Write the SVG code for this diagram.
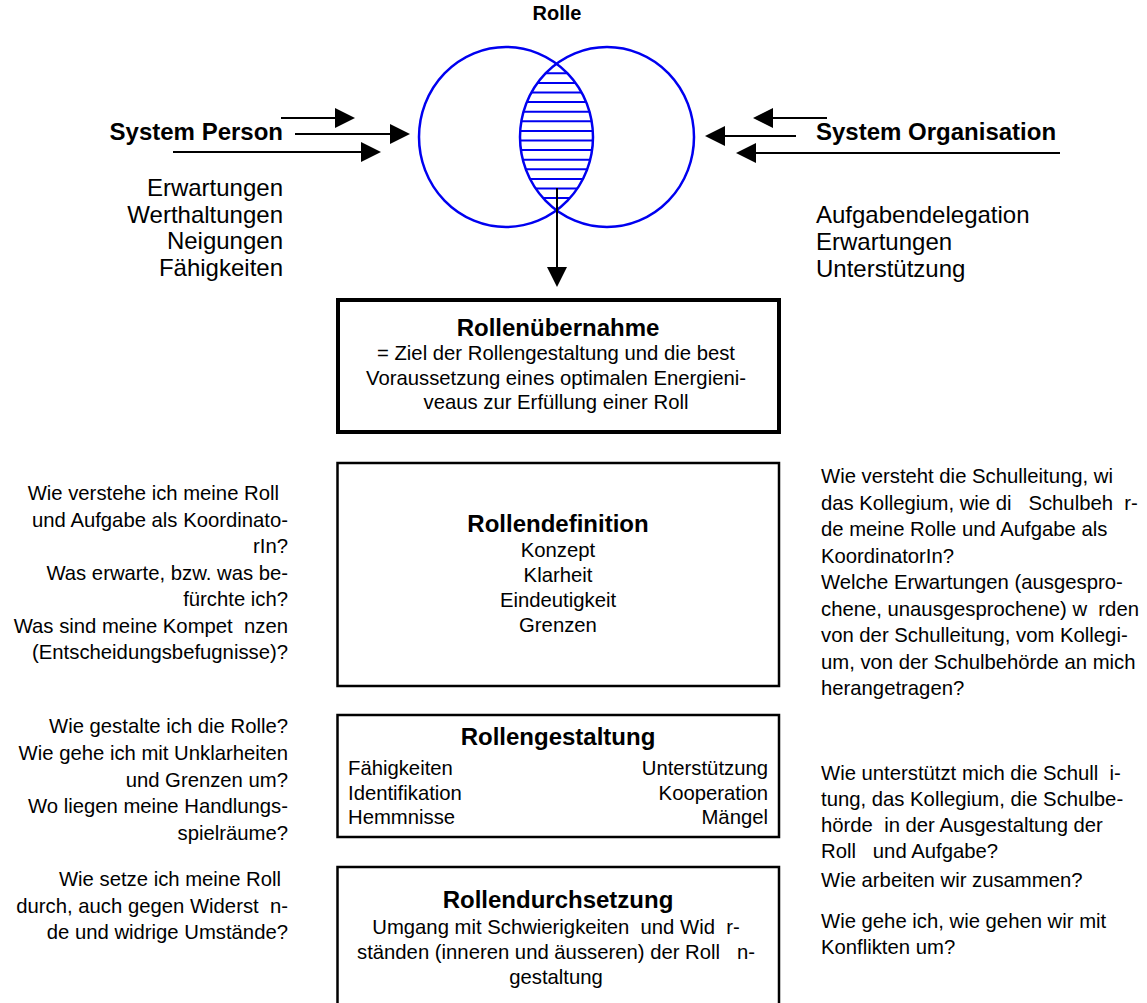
<svg xmlns="http://www.w3.org/2000/svg" width="1147" height="1003" viewBox="0 0 1147 1003">
<style>
text{font-family:"Liberation Sans",Arial,Helvetica,sans-serif;fill:#000}
.b{font-weight:bold;font-size:24px}
.r{font-weight:bold;font-size:20px}
.l{font-size:24px}
.s{font-size:20.3px}
.m{text-anchor:middle}
.e{text-anchor:end}
.box{fill:#fff;stroke:#000;stroke-width:2.5}
.box1{fill:#fff;stroke:#000;stroke-width:4}
.ring{fill:none;stroke:#0000f0;stroke-width:2.5}
.hatch{stroke:#0000f0;stroke-width:2}
.arr{stroke:#000;stroke-width:2;fill:none;marker-end:url(#ah)}
</style>
<defs>
<marker id="ah" markerUnits="userSpaceOnUse" markerWidth="21" markerHeight="21" refX="1" refY="10" orient="auto">
<path d="M0,0 L20,10 L0,20 z" fill="#000"/>
</marker>
<clipPath id="cl"><ellipse cx="506" cy="137" rx="87" ry="90"/></clipPath>
<clipPath id="cr"><ellipse cx="607" cy="137" rx="87" ry="90"/></clipPath>
</defs>

<g id="rolle">
<text class="r m" x="557" y="20">Rolle</text>
<g clip-path="url(#cl)"><g clip-path="url(#cr)" class="hatch">
<line x1="510" y1="73.3" x2="604" y2="73.3"/>
<line x1="510" y1="82.9" x2="604" y2="82.9"/>
<line x1="510" y1="92.5" x2="604" y2="92.5"/>
<line x1="510" y1="102.1" x2="604" y2="102.1"/>
<line x1="510" y1="111.7" x2="604" y2="111.7"/>
<line x1="510" y1="121.3" x2="604" y2="121.3"/>
<line x1="510" y1="130.9" x2="604" y2="130.9"/>
<line x1="510" y1="140.5" x2="604" y2="140.5"/>
<line x1="510" y1="150.1" x2="604" y2="150.1"/>
<line x1="510" y1="159.7" x2="604" y2="159.7"/>
<line x1="510" y1="169.3" x2="604" y2="169.3"/>
<line x1="510" y1="178.9" x2="604" y2="178.9"/>
<line x1="510" y1="188.5" x2="604" y2="188.5"/>
<line x1="510" y1="198.1" x2="604" y2="198.1"/>
</g></g>
<ellipse class="ring" cx="506" cy="137" rx="87" ry="90"/>
<ellipse class="ring" cx="607" cy="137" rx="87" ry="90"/>
</g>

<g id="system-person">
<text class="b e" x="283" y="140">System Person</text>
<text class="l e" x="283" y="196">Erwartungen</text>
<text class="l e" x="283" y="222.5">Werthaltungen</text>
<text class="l e" x="283" y="249">Neigungen</text>
<text class="l e" x="283" y="275.5">Fähigkeiten</text>
</g>

<g id="system-organisation">
<text class="b" x="816" y="140">System Organisation</text>
<text class="l" x="816" y="223">Aufgabendelegation</text>
<text class="l" x="816" y="250">Erwartungen</text>
<text class="l" x="816" y="277">Unterstützung</text>
</g>

<g id="connectors">
<line class="arr" x1="281" y1="118" x2="336" y2="118"/>
<line class="arr" x1="295" y1="134" x2="391" y2="134"/>
<line class="arr" x1="173" y1="152" x2="362" y2="152"/>
<line class="arr" x1="827" y1="118" x2="772" y2="118"/>
<line class="arr" x1="796" y1="136" x2="724" y2="136"/>
<line class="arr" x1="1060" y1="153" x2="755" y2="153"/>
<line class="arr" x1="557" y1="188" x2="557" y2="268"/>
</g>

<g id="rollenuebernahme">
<rect class="box1" x="338" y="300" width="441" height="132"/>
<text class="b m" x="558" y="336">Rollenübernahme</text>
<text class="s m" x="556" y="360">= Ziel der Rollengestaltung und die best</text>
<text class="s m" x="556" y="385">Voraussetzung eines optimalen Energieni-</text>
<text class="s m" x="556" y="409">veaus zur Erfüllung einer Roll</text>
</g>

<g id="rollendefinition">
<rect class="box" x="337.5" y="463" width="441.5" height="223"/>
<text class="b m" x="558" y="532">Rollendefinition</text>
<text class="s m" x="558" y="557">Konzept</text>
<text class="s m" x="558" y="582">Klarheit</text>
<text class="s m" x="558" y="607">Eindeutigkeit</text>
<text class="s m" x="558" y="632">Grenzen</text>
</g>

<g id="rollengestaltung">
<rect class="box" x="337.5" y="715" width="441.5" height="122"/>
<text class="b m" x="558" y="745">Rollengestaltung</text>
<text class="s" x="348" y="775">Fähigkeiten</text>
<text class="s" x="348" y="800">Identifikation</text>
<text class="s" x="348" y="824">Hemmnisse</text>
<text class="s e" x="768" y="775">Unterstützung</text>
<text class="s e" x="768" y="800">Kooperation</text>
<text class="s e" x="768" y="824">Mängel</text>
</g>

<g id="rollendurchsetzung">
<rect class="box" x="337.5" y="867" width="441.5" height="140"/>
<text class="b m" x="558" y="908">Rollendurchsetzung</text>
<text class="s m" x="556" y="934" xml:space="preserve">Umgang mit Schwierigkeiten  und Wid  r-</text>
<text class="s m" x="556" y="959" xml:space="preserve">ständen (inneren und äusseren) der Roll   n-</text>
<text class="s m" x="556" y="984">gestaltung</text>
</g>

<g id="fragen-person-definition">
<text class="s e" x="279" y="500">Wie verstehe ich meine Roll</text>
<text class="s e" x="288" y="526.5">und Aufgabe als Koordinato-</text>
<text class="s e" x="288" y="553">rIn?</text>
<text class="s e" x="288" y="579.5">Was erwarte, bzw. was be-</text>
<text class="s e" x="288" y="606">fürchte ich?</text>
<text class="s e" x="288" y="632.5" xml:space="preserve">Was sind meine Kompet  nzen</text>
<text class="s e" x="288" y="659">(Entscheidungsbefugnisse)?</text>
</g>

<g id="fragen-person-gestaltung">
<text class="s e" x="288" y="733">Wie gestalte ich die Rolle?</text>
<text class="s e" x="288" y="760">Wie gehe ich mit Unklarheiten</text>
<text class="s e" x="288" y="786.5">und Grenzen um?</text>
<text class="s e" x="288" y="813">Wo liegen meine Handlungs-</text>
<text class="s e" x="288" y="839.5">spielräume?</text>
</g>

<g id="fragen-person-durchsetzung">
<text class="s e" x="281" y="886">Wie setze ich meine Roll</text>
<text class="s e" x="288" y="912.5" xml:space="preserve">durch, auch gegen Widerst  n-</text>
<text class="s e" x="288" y="939">de und widrige Umstände?</text>
</g>

<g id="fragen-organisation-definition">
<text class="s" x="821" y="483">Wie versteht die Schulleitung, wi</text>
<text class="s" x="821" y="509.5" xml:space="preserve">das Kollegium, wie di   Schulbeh  r-</text>
<text class="s" x="821" y="536">de meine Rolle und Aufgabe als</text>
<text class="s" x="821" y="562.5">KoordinatorIn?</text>
<text class="s" x="821" y="589">Welche Erwartungen (ausgespro-</text>
<text class="s" x="821" y="615.5" xml:space="preserve">chene, unausgesprochene) w  rden</text>
<text class="s" x="821" y="642">von der Schulleitung, vom Kollegi-</text>
<text class="s" x="821" y="668.5">um, von der Schulbehörde an mich</text>
<text class="s" x="821" y="695">herangetragen?</text>
</g>

<g id="fragen-organisation-gestaltung">
<text class="s" x="821" y="780" xml:space="preserve">Wie unterstützt mich die Schull  i-</text>
<text class="s" x="821" y="806">tung, das Kollegium, die Schulbe-</text>
<text class="s" x="821" y="832" xml:space="preserve">hörde  in der Ausgestaltung der</text>
<text class="s" x="821" y="858" xml:space="preserve">Roll   und Aufgabe?</text>
</g>

<g id="fragen-organisation-durchsetzung">
<text class="s" x="821" y="887">Wie arbeiten wir zusammen?</text>
<text class="s" x="821" y="928">Wie gehe ich, wie gehen wir mit</text>
<text class="s" x="821" y="954">Konflikten um?</text>
</g>
</svg>
